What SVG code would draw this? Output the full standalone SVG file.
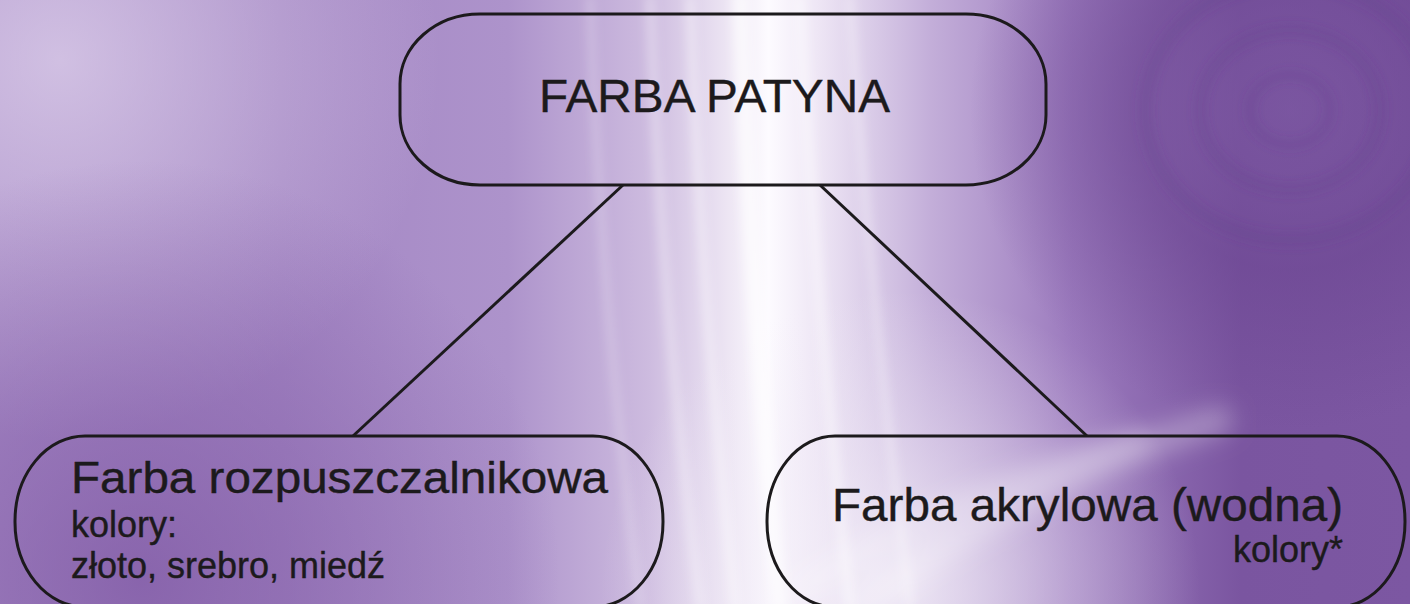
<svg xmlns="http://www.w3.org/2000/svg" width="1410" height="604" viewBox="0 0 1410 604">
<defs>
<linearGradient id="bg" x1="0" y1="0" x2="1410" y2="0" gradientUnits="userSpaceOnUse">
<stop offset="0" stop-color="#a88cc7"/>
<stop offset="0.2" stop-color="#a487c4"/>
<stop offset="0.36" stop-color="#ad93cb"/>
<stop offset="0.46" stop-color="#cdbbdf"/>
<stop offset="0.52" stop-color="#efe8f5"/>
<stop offset="0.545" stop-color="#fdfbff"/>
<stop offset="0.58" stop-color="#eee6f5"/>
<stop offset="0.66" stop-color="#c3aed9"/>
<stop offset="0.76" stop-color="#9c7bbe"/>
<stop offset="0.88" stop-color="#7a55a0"/>
<stop offset="1" stop-color="#7c57a2"/>
</linearGradient>
<radialGradient id="tl" cx="60" cy="60" r="380" gradientUnits="userSpaceOnUse">
<stop offset="0" stop-color="#e2d6ee" stop-opacity="0.7"/>
<stop offset="1" stop-color="#e2d6ee" stop-opacity="0"/>
</radialGradient>
<radialGradient id="bl" cx="140" cy="580" r="420" gradientUnits="userSpaceOnUse">
<stop offset="0" stop-color="#7f58a4" stop-opacity="0.75"/>
<stop offset="1" stop-color="#7f58a4" stop-opacity="0"/>
</radialGradient>
<radialGradient id="tr" cx="1290" cy="110" r="320" gradientUnits="userSpaceOnUse">
<stop offset="0" stop-color="#7a56a0" stop-opacity="0.5"/>
<stop offset="0.5" stop-color="#6b4591" stop-opacity="0.55"/>
<stop offset="1" stop-color="#6b4591" stop-opacity="0"/>
</radialGradient>
<radialGradient id="br" cx="900" cy="590" r="300" gradientUnits="userSpaceOnUse">
<stop offset="0" stop-color="#f6f2fa" stop-opacity="0.8"/>
<stop offset="0.5" stop-color="#f1ebf7" stop-opacity="0.4"/>
<stop offset="1" stop-color="#f1ebf7" stop-opacity="0"/>
</radialGradient>
<filter id="soft" x="-20%" y="-20%" width="140%" height="140%">
<feGaussianBlur stdDeviation="5"/>
</filter>
<filter id="softer" x="-20%" y="-20%" width="140%" height="140%">
<feGaussianBlur stdDeviation="12"/>
</filter>
<style>
.node{fill:none;stroke:#1c1a1c;stroke-width:3}
.edge{stroke:#1c1a1c;stroke-width:3;fill:none}
.t{font-family:"Liberation Sans",Arial,sans-serif;fill:#1c1a1c;stroke:#1c1a1c;stroke-width:0.4}
.streak{fill:none;stroke:#ffffff;stroke-linecap:round}
.ring{fill:none;stroke:#5e3a85;stroke-opacity:0.18}
</style>
</defs>
<g id="background">
<rect width="1410" height="604" fill="url(#bg)"/>
<rect width="1410" height="604" fill="url(#tl)"/>
<rect width="1410" height="604" fill="url(#bl)"/>
<rect width="1410" height="604" fill="url(#tr)"/>
<rect width="1410" height="604" fill="url(#br)"/>
<g class="streak" filter="url(#soft)">
<path d="M650 0 Q660 300 700 604" stroke-opacity="0.3" stroke-width="10"/>
<path d="M690 0 Q700 300 735 604" stroke-opacity="0.4" stroke-width="8"/>
<path d="M740 0 Q750 300 780 604" stroke-opacity="0.6" stroke-width="16"/>
<path d="M800 0 Q815 300 850 604" stroke-opacity="0.4" stroke-width="10"/>
<path d="M850 0 Q870 300 910 604" stroke-opacity="0.3" stroke-width="8"/>
<path d="M590 0 Q600 300 640 604" stroke-opacity="0.2" stroke-width="8"/>
</g>
<g class="streak" filter="url(#softer)">
<path d="M860 604 Q1030 480 1220 420" stroke-opacity="0.3" stroke-width="26"/>
<path d="M800 590 Q960 490 1140 440" stroke-opacity="0.3" stroke-width="20"/>
</g>
<g filter="url(#soft)">
<ellipse class="ring" cx="1290" cy="110" rx="40" ry="35" stroke-width="10"/>
<ellipse class="ring" cx="1290" cy="110" rx="90" ry="80" stroke-width="12"/>
<ellipse class="ring" cx="1290" cy="110" rx="145" ry="130" stroke-width="14"/>
</g>
</g>
<g id="connectors">
<line class="edge" x1="623" y1="185" x2="353" y2="436"/>
<line class="edge" x1="820" y1="185" x2="1087" y2="436"/>
</g>
<g id="node-farba-patyna">
<rect class="node" x="400" y="14" width="646" height="171" rx="80" ry="70"/>
<text class="t" x="539" y="112" font-size="46" textLength="351" lengthAdjust="spacingAndGlyphs">FARBA PATYNA</text>
</g>
<g id="node-rozpuszczalnikowa">
<rect class="node" x="15" y="436" width="648" height="171" rx="70" ry="85"/>
<text class="t" x="71" y="493" font-size="44" textLength="537" lengthAdjust="spacingAndGlyphs">Farba rozpuszczalnikowa</text>
<text class="t" x="71" y="537" font-size="36">kolory:</text>
<text class="t" x="71" y="578" font-size="36">złoto, srebro, miedź</text>
</g>
<g id="node-akrylowa">
<rect class="node" x="767" y="436" width="638" height="171" rx="68" ry="85"/>
<text class="t" x="832" y="521" font-size="46" textLength="511" lengthAdjust="spacingAndGlyphs">Farba akrylowa (wodna)</text>
<text class="t" x="1343" y="562" font-size="36" text-anchor="end">kolory*</text>
</g>
</svg>
